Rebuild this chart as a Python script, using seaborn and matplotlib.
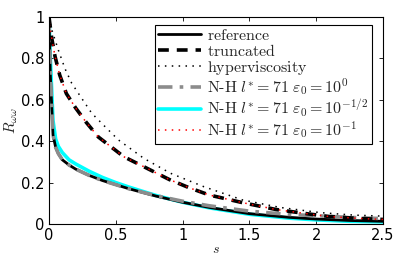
import numpy as np
import pandas as pd
import matplotlib
matplotlib.use("Agg")
import matplotlib.pyplot as plt
import seaborn as sns

# ---- data ----
s_low = [0, 0.01, 0.03, 0.05, 0.07, 0.1, 0.15, 0.2, 0.3, 0.4, 0.5, 0.6, 0.8, 1.0, 1.2, 1.5, 1.8, 2.0, 2.25, 2.5]
ref_vals = [1.0, 0.72, 0.43, 0.37, 0.34, 0.31, 0.285, 0.265, 0.235, 0.21, 0.19, 0.17, 0.135, 0.105, 0.08, 0.05, 0.032, 0.024, 0.017, 0.013]
nh_half_vals = [1.0, 0.8, 0.5, 0.41, 0.375, 0.345, 0.31, 0.29, 0.255, 0.225, 0.2, 0.178, 0.138, 0.105, 0.078, 0.047, 0.028, 0.02, 0.013, 0.01]
nh_one_vals = [1.0, 0.72, 0.43, 0.37, 0.34, 0.31, 0.285, 0.265, 0.235, 0.21, 0.19, 0.17, 0.137, 0.11, 0.088, 0.062, 0.046, 0.04, 0.032, 0.026]

s_trunc = [0, 0.02, 0.045, 0.08, 0.13, 0.2, 0.28, 0.37, 0.47, 0.56, 0.7, 0.9, 1.05, 1.2, 1.45, 1.7, 1.95, 2.1, 2.35, 2.5]
trunc_vals = [1.0, 0.9, 0.81, 0.72, 0.63, 0.56, 0.49, 0.42, 0.37, 0.325, 0.28, 0.215, 0.175, 0.14, 0.103, 0.07, 0.048, 0.036, 0.026, 0.022]
nh_tenth_vals = [1.0, 0.9, 0.81, 0.72, 0.63, 0.56, 0.49, 0.42, 0.37, 0.325, 0.28, 0.215, 0.175, 0.14, 0.103, 0.07, 0.048, 0.036, 0.026, 0.022]

s_hyper = [0, 0.02, 0.07, 0.12, 0.17, 0.245, 0.32, 0.42, 0.52, 0.71, 0.91, 1.16, 1.45, 1.73, 2.03, 2.28, 2.5]
hyper_vals = [1.0, 0.94, 0.84, 0.75, 0.68, 0.607, 0.535, 0.47, 0.406, 0.317, 0.245, 0.18, 0.116, 0.08, 0.055, 0.043, 0.038]

labels = [r"$\mathrm{reference}$",
          r"$\mathrm{truncated}$",
          r"$\mathrm{hyperviscosity}$",
          r"$\mathrm{N\text{-}H}\ l^{*}=71\ \varepsilon_0=10^{0}$",
          r"$\mathrm{N\text{-}H}\ l^{*}=71\ \varepsilon_0=10^{-1/2}$",
          r"$\mathrm{N\text{-}H}\ l^{*}=71\ \varepsilon_0=10^{-1}$"]

xticks = [0, 0.5, 1, 1.5, 2, 2.5]
yticks = [0, 0.2, 0.4, 0.6, 0.8, 1]

sns.set_theme(style="white")
plt.rcParams['font.family'] = ['DejaVu Sans']
plt.rcParams['mathtext.fontset'] = 'cm'

fig = plt.figure(figsize=(3.99, 2.57), dpi=100)
ax = fig.add_axes([0.1228, 0.1284, 0.837, 0.8055])

series = [
    (s_low, ref_vals, dict(color="black", lw=2.0, ls="-")),
    (s_trunc, trunc_vals, dict(color="black", lw=2.6, ls=(0, (3, 2.2)))),
    (s_hyper, hyper_vals, dict(color="black", lw=1.1, ls=(0, (1, 3.5)))),
    (s_low, nh_one_vals, dict(color="#8c8c8c", lw=2.6, ls=(0, (4, 2, 1, 2)))),
    (s_low, nh_half_vals, dict(color="cyan", lw=2.6, ls="-")),
    (s_trunc, nh_tenth_vals, dict(color="red", lw=1.1, ls=(0, (1, 3.5)))),
]
order = [4, 0, 3, 1, 5, 2]
handles = [None] * len(series)
for i in order:
    xs, ys, st = series[i]
    df = pd.DataFrame({"s": xs, "R": ys})
    sns.lineplot(data=df, x="s", y="R", ax=ax, label=labels[i],
                 color=st["color"], linewidth=st["lw"], linestyle=st["ls"],
                 legend=False)
    handles[i] = ax.lines[-1]

ax.set_xlim(0, 2.5)
ax.set_ylim(0, 1)
ax.set_xticks(xticks)
ax.set_xticklabels([f"{t:g}" for t in xticks])
ax.set_yticks(yticks)
ax.set_yticklabels([f"{t:g}" for t in yticks])
ax.tick_params(direction="in", length=3, width=0.6, labelsize=10.5,
               top=True, right=True, bottom=True, left=True, colors="black", pad=3)
for sp in ax.spines.values():
    sp.set_color("black")
    sp.set_linewidth(0.8)
ax.set_xlabel(r"$s$", fontsize=10)
ax.xaxis.set_label_coords(0.5, -0.085)
ax.set_ylabel(r"$R_{\omega\omega}$", fontsize=11)
ax.yaxis.set_label_coords(-0.088, 0.5)

leg = ax.legend(handles, labels, loc="upper right", bbox_to_anchor=(0.966, 0.963),
                fontsize=11.5, frameon=True, fancybox=False, edgecolor="black",
                framealpha=1, handlelength=2.7, handletextpad=0.35,
                labelspacing=0.0, borderpad=0.2, borderaxespad=0)
leg.get_frame().set_linewidth(0.8)

fig.savefig("out.png", dpi=100)
